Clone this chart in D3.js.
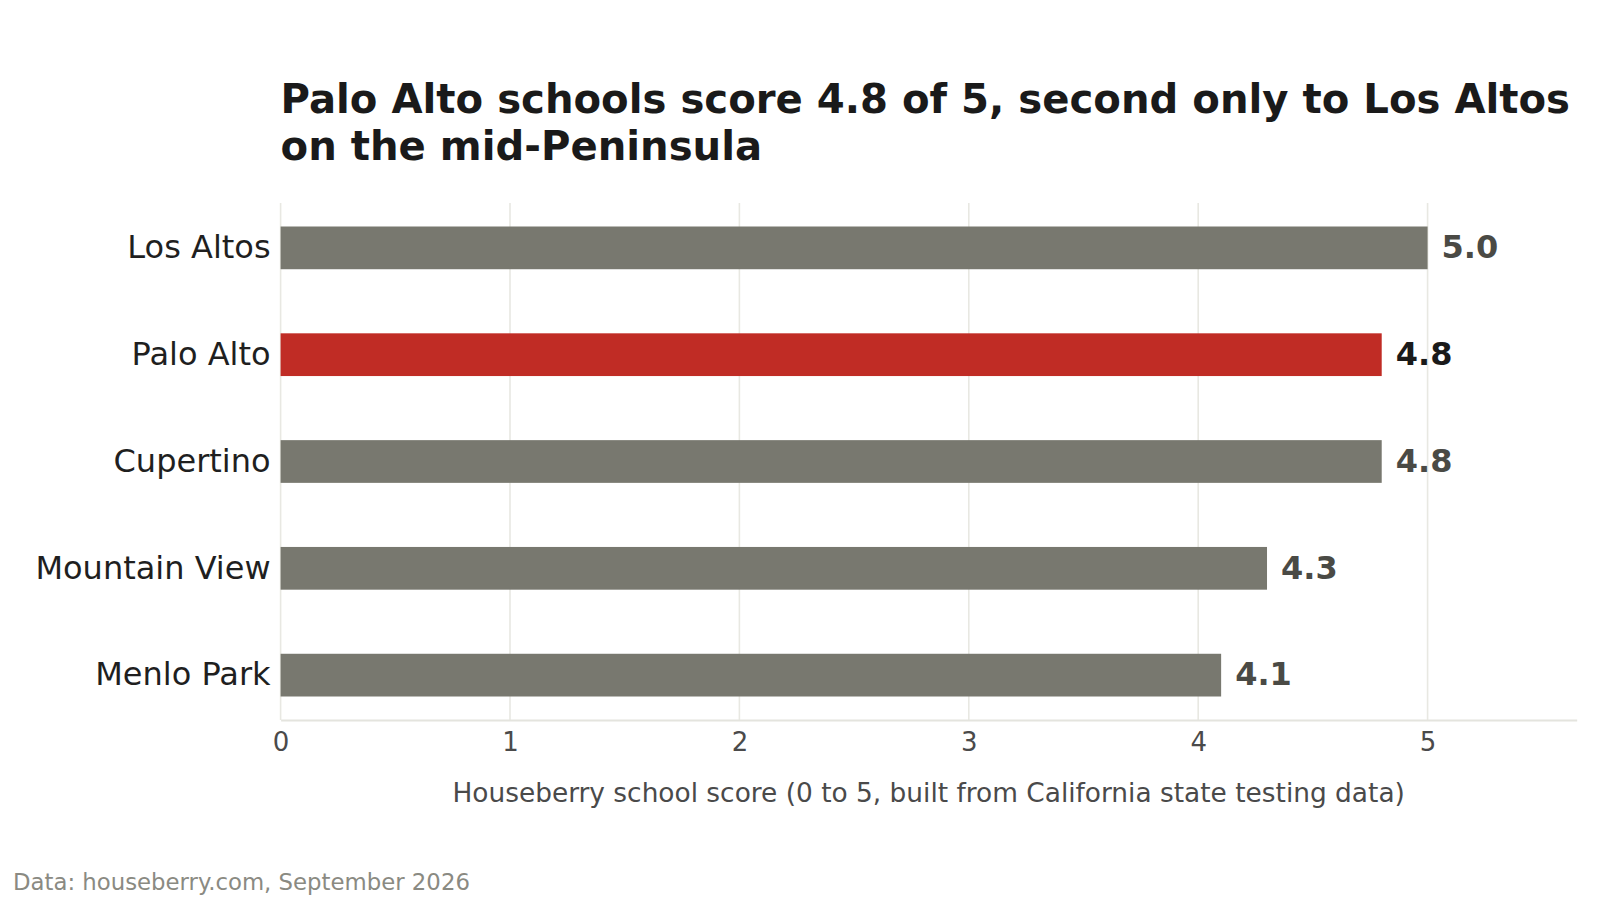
<!DOCTYPE html>
<html>
<head>
<meta charset="utf-8">
<script src="https://cdn.jsdelivr.net/npm/d3@7"></script>
<style>
  html, body { margin: 0; padding: 0; background: #ffffff; }
  svg { display: block; font-family: "DejaVu Sans", sans-serif; }
</style>
</head>
<body>
<svg id="svg" width="1600" height="900"></svg>
<script>
const cities = ['Los Altos', 'Palo Alto', 'Cupertino', 'Mountain View', 'Menlo Park'];
const scores = [5.0, 4.8, 4.8, 4.3, 4.1];
const highlight = 'Palo Alto';
const xTicks = [0, 1, 2, 3, 4, 5];
const xMax = 5.65;

const titleLines = [
  'Palo Alto schools score 4.8 of 5, second only to Los Altos',
  'on the mid-Peninsula'
];
const xLabel = 'Houseberry school score (0 to 5, built from California state testing data)';
const source = 'Data: houseberry.com, September 2026';

const drawChart = function() {
  const svg = d3.select('#svg');
  const plot = { left: 280.6, right: 1576.7, top: 203, bottom: 720 };

  const x = d3.scaleLinear().domain([0, xMax]).range([plot.left, plot.right]);
  const y = d3.scaleBand()
    .domain(cities)
    .range([plot.top, plot.bottom])
    .paddingInner(0.6)
    .paddingOuter(0.22);

  // vertical grid
  svg.append('g')
    .selectAll('line')
    .data(xTicks)
    .enter()
    .append('line')
    .attr('x1', d => x(d))
    .attr('x2', d => x(d))
    .attr('y1', plot.top)
    .attr('y2', plot.bottom)
    .style('stroke', '#e8e8e2')
    .style('stroke-width', 1.6);

  // bars
  const rows = cities.map((c, i) => ({ city: c, score: scores[i] }));
  svg.append('g')
    .selectAll('rect')
    .data(rows)
    .enter()
    .append('rect')
    .attr('x', x(0))
    .attr('y', d => y(d.city))
    .attr('width', d => x(d.score) - x(0))
    .attr('height', y.bandwidth())
    .attr('fill', d => (d.city === highlight ? '#c02c25' : '#78786f'));

  // value labels
  svg.append('g')
    .selectAll('text')
    .data(rows)
    .enter()
    .append('text')
    .attr('x', d => x(d.score) + 14)
    .attr('y', d => y(d.city) + y.bandwidth() / 2)
    .attr('dy', '0.32em')
    .style('font-size', '32px')
    .style('font-weight', 'bold')
    .style('fill', d => (d.city === highlight ? '#1a1a1a' : '#4a4a45'))
    .text(d => d.score.toFixed(1));

  // y labels
  const yAxis = d3.axisLeft(y).tickSize(0).tickPadding(10);
  const gy = svg.append('g')
    .attr('transform', 'translate(' + plot.left + ',0)')
    .call(yAxis);
  gy.select('.domain').remove();
  gy.selectAll('text')
    .style('font-family', '"DejaVu Sans", sans-serif')
    .style('font-size', '32px')
    .style('fill', '#1f1f1f');

  // x axis
  const xAxis = d3.axisBottom(x).tickValues(xTicks).tickSize(0).tickPadding(13)
    .tickFormat(d3.format('d'));
  const gx = svg.append('g')
    .attr('transform', 'translate(0,' + plot.bottom + ')')
    .call(xAxis);
  gx.select('.domain')
    .style('stroke', '#e4e4de')
    .style('stroke-width', 2);
  gx.selectAll('text')
    .style('font-family', '"DejaVu Sans", sans-serif')
    .style('font-size', '26px')
    .style('fill', '#4a4a4a');

  svg.append('text')
    .attr('x', (plot.left + plot.right) / 2)
    .attr('y', 802)
    .attr('text-anchor', 'middle')
    .style('font-size', '26.4px')
    .style('fill', '#4a4a4a')
    .text(xLabel);

  // title
  svg.append('g')
    .selectAll('text')
    .data(titleLines)
    .enter()
    .append('text')
    .attr('x', plot.left)
    .attr('y', (d, i) => 113 + i * 47)
    .style('font-size', '40.2px')
    .style('font-weight', 'bold')
    .style('fill', '#1a1a1a')
    .text(d => d);

  // source
  svg.append('text')
    .attr('x', 13)
    .attr('y', 890)
    .style('font-size', '22.8px')
    .style('fill', '#8a8a82')
    .text(source);
};

drawChart();
</script>
</body>
</html>
